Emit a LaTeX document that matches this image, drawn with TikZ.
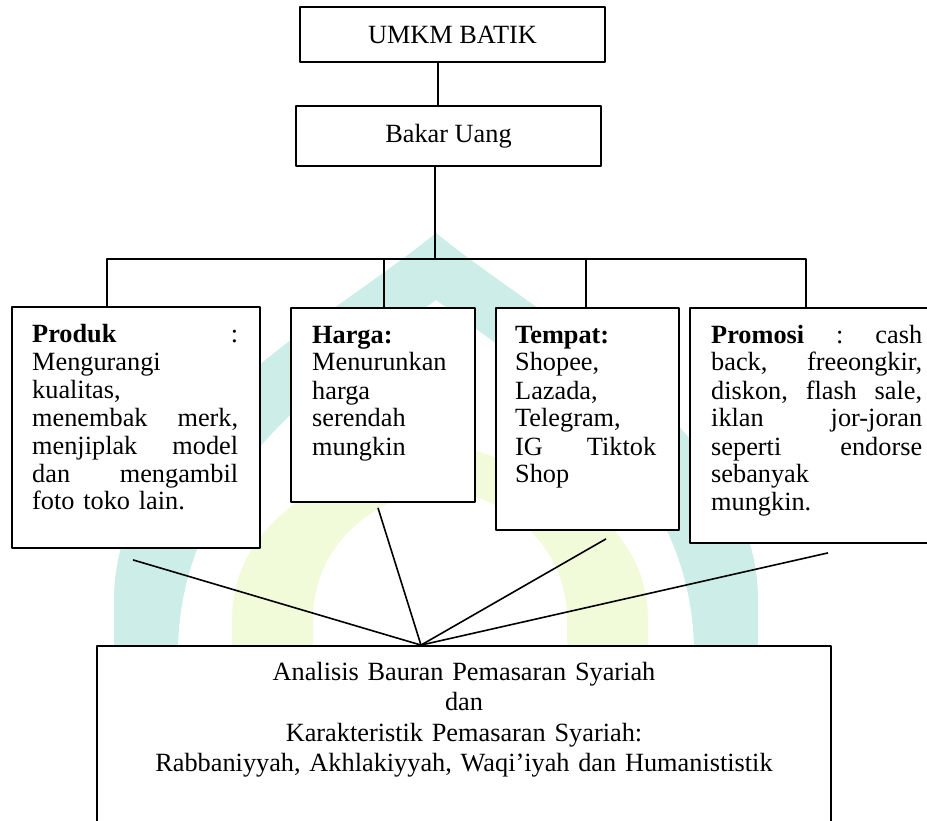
\documentclass[tikz,border=0pt]{standalone}
\usepackage{fontspec}
\setmainfont{Liberation Serif}
\usetikzlibrary{positioning, calc, backgrounds}
\definecolor{wmcyan}{HTML}{CCEDE8}
\definecolor{wmyellow}{HTML}{F1FAD9}

\begin{document}
\begin{tikzpicture}[
  x=1pt, y=-1pt,
  font=\fontsize{26.3}{28}\selectfont,
  line join=round,
  link/.style={line width=1.8pt, draw=black},
  fanline/.style={line width=1.6pt, draw=black},
  box/.style={draw=black, fill=white, line width=1.8pt, inner sep=0pt},
  txt/.style={inner sep=0pt, align=left, anchor=base west},
  sumtxt/.style={inner sep=0pt, align=center, anchor=base, text width=720,
                 font=\fontsize{26.3}{30.5}\selectfont}
]
\useasboundingbox (0,0) rectangle (927,821);
\clip (0,0) rectangle (927,821);

% watermark behind the chart
\begin{scope}[on background layer]
  \fill[wmcyan] (436,233) .. controls (330,320) and (114,430) .. (114,600)
    -- (114,830) -- (178,830) -- (178,650)
    .. controls (180,470) and (340,370) .. (436,300)
    .. controls (532,370) and (692,470) .. (694,650)
    -- (694,830) -- (758,830) -- (758,600)
    .. controls (758,430) and (542,320) .. (436,233) -- cycle;
  \fill[wmyellow] (440,440) .. controls (330,470) and (232,520) .. (232,620)
    -- (232,830) -- (313,830) -- (313,620)
    .. controls (313,540) and (380,495) .. (440,488)
    .. controls (500,495) and (567,540) .. (567,620)
    -- (567,830) -- (648,830) -- (648,620)
    .. controls (648,520) and (550,470) .. (440,440) -- cycle;
\end{scope}

\node[box, minimum width=305, minimum height=55] (umkm) at (452.5,34.5) {UMKM BATIK};
\node[box, minimum width=305, minimum height=60] (bakar) at (448.5,136) {Bakar Uang};

\node[box, minimum width=248, minimum height=241] (produk)  at (136,427.5) {};
\node[box, minimum width=184, minimum height=194] (harga)   at (383,405)   {};
\node[box, minimum width=183, minimum height=222] (tempat)  at (587.5,419) {};
\node[box, minimum width=250, minimum height=235] (promosi) at (815,425.5) {};
\node[box, minimum width=734, minimum height=214] (analisis) at (464,753)  {};

\node[txt, text width=206] (produkT) at (32,342)
  {\textbf{Produk}\hfill:\\ Mengurangi\\ kualitas,\\ menembak\hfill merk,\\
   menjiplak\hfill model\\ dan\hfill mengambil\\ foto toko lain.};
\node[txt, text width=150] (hargaT) at (312,343)
  {\textbf{Harga:}\\ Menurunkan\\ harga\\ serendah\\ mungkin};
\node[txt, text width=141] (tempatT) at (515,343)
  {\textbf{Tempat:}\\ Shopee,\\ Lazada,\\ Telegram,\\ IG\hfill Tiktok\\ Shop};
\node[txt, text width=211] (promosiT) at (711,343)
  {\textbf{Promosi}\hfill:\hfill cash\\ back,\hfill freeongkir,\\
   diskon,\hfill flash\hfill sale,\\ iklan\hfill jor-joran\\
   seperti\hfill endorse\\ sebanyak\\ mungkin.};
\node[sumtxt] (analisisT) at (464,680)
  {Analisis Bauran Pemasaran Syariah\\ dan\\ Karakteristik Pemasaran Syariah:\\
   Rabbaniyyah, Akhlakiyyah, Waqi’iyah dan Humanististik};

% tree lines
\coordinate (bus) at ($(bakar.south)+(-13.5,92)$);
\draw[link] ([xshift=-14.5]umkm.south) -- ([xshift=-14.5]umkm.south |- bakar.north);
\draw[link] ([xshift=-13.5]bakar.south) -- (bus);
\draw[link] (bus) -| ([xshift=-29]produk.north);
\draw[link] (bus) -| ([xshift=1]harga.north);
\draw[link] (bus) -| ([xshift=-1.5]tempat.north);
\draw[link] (bus) -| ([xshift=-9]promosi.north);

% fan into the analysis box
\coordinate (fan) at ([xshift=-43]analisis.north);
\coordinate (produkEnd)  at ($(produk.south)+(-3,11)$);
\coordinate (hargaEnd)   at ($(harga.south)+(-5,5)$);
\coordinate (tempatEnd)  at ($(tempat.south)+(18.5,8)$);
\coordinate (promosiEnd) at ($(promosi.south)+(13,9)$);
\draw[fanline] (produkEnd) -- (fan);
\draw[fanline] (hargaEnd) -- (fan);
\draw[fanline] (tempatEnd) -- (fan);
\draw[fanline] (promosiEnd) -- (fan);
\end{tikzpicture}
\end{document}
